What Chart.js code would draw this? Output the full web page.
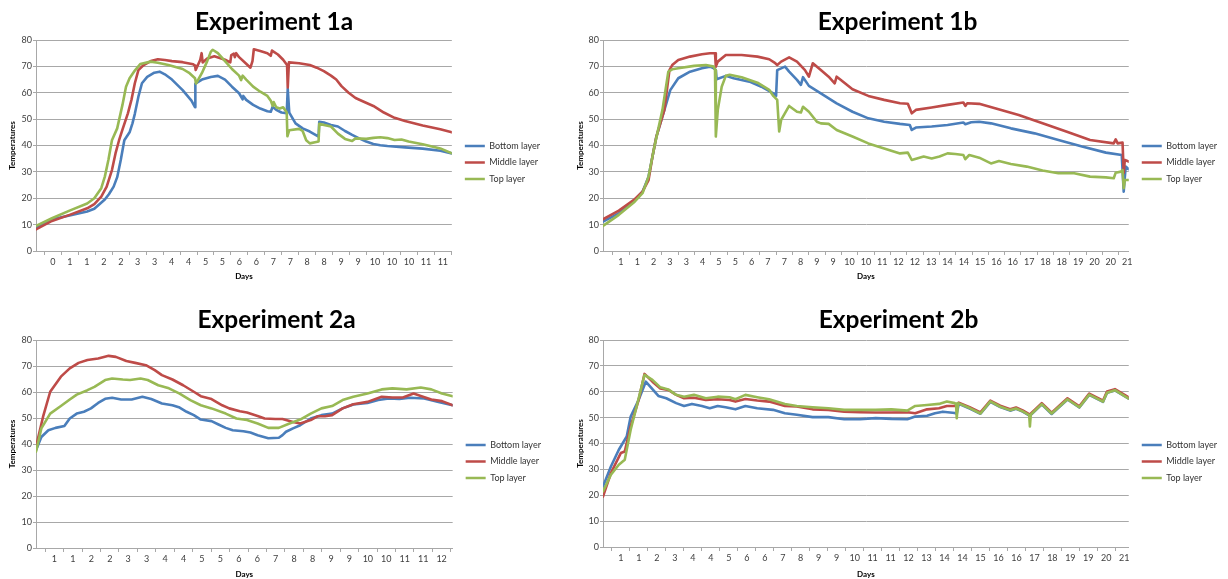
<!DOCTYPE html>
<html>
<head>
<meta charset="utf-8">
<script src="https://cdn.jsdelivr.net/npm/chart.js@4.4.0/dist/chart.umd.min.js"></script>
<style>
html, body { margin: 0; padding: 0; background: #fff; width: 1228px; height: 579px; overflow: hidden; position: relative; }
canvas { position: absolute; }
</style>
</head>
<body>
<canvas id="c1a"></canvas>
<canvas id="c1b"></canvas>
<canvas id="c2a"></canvas>
<canvas id="c2b"></canvas>
<script>
// ---------- data (x = position along the category axis, in tick-label steps; y = temperature) ----------
const seriesNames = ['Bottom layer', 'Middle layer', 'Top layer'];

const ticks1a = ['0','1','1','2','2','3','3','4','4','5','5','6','6','7','7','8','8','9','9','10','10','10','11','11'];
const ticks1b = ['1','1','2','3','3','4','5','5','6','7','7','8','9','9','10','10','11','12','12','13','14','14','15','16','16','17','18','18','19','20','20','21'];
const ticks2a = ['1','1','2','2','3','3','4','4','5','5','6','6','7','8','8','9','9','10','10','11','11','12'];
const ticks2b = ['1','1','2','3','4','4','5','6','6','7','8','9','9','10','11','11','12','13','14','14','15','16','16','17','18','19','19','20','21'];

const exp1aBottom = [[0,9.0],[0.94,12.0],[1.98,13.5],[3.02,15.0],[3.44,16.0],[4.06,19.5],[4.3,21.5],[4.58,24.4],[4.79,28],[5.0,34.5],[5.21,42],[5.52,45],[5.69,48.4],[5.83,52],[6.04,58.5],[6.25,63.6],[6.56,66],[6.98,67.6],[7.29,68],[7.6,67],[8.02,65],[8.65,61],[9.17,57],[9.38,54.5],[9.4,63.5],[9.79,65],[10.31,66],[10.73,66.4],[11.15,65],[11.56,62.3],[11.98,59.8],[12.19,57.5],[12.23,58.8],[12.4,57.3],[12.81,55.4],[13.23,54],[13.65,53],[13.85,52.8],[13.96,54.7],[14.17,53.5],[14.48,52.5],[14.79,52.2],[14.85,61.5],[14.94,52.5],[15.31,48.4],[15.73,46.5],[16.15,45.3],[16.67,43.4],[16.71,49],[16.98,48.7],[17.4,47.8],[17.81,47.2],[18.23,45.5],[18.65,44],[19.06,42.7],[19.48,41.5],[19.9,40.6],[20.31,40.1],[20.73,39.8],[21.77,39.3],[22.81,38.8],[23.85,38],[24.53,37]];
const exp1aMiddle = [[0,8.2],[0.94,11.4],[1.98,13.7],[3.02,16.2],[3.44,17.8],[3.85,20.6],[4.17,24.4],[4.48,30.7],[4.69,37],[4.9,42],[5.1,46],[5.42,52.2],[5.63,57.3],[5.83,63.6],[6.04,68.6],[6.35,70.5],[6.77,72],[7.19,72.7],[7.6,72.4],[8.02,72],[8.65,71.6],[9.27,70.8],[9.38,70.2],[9.42,68.6],[9.69,72.5],[9.77,75],[9.83,71.5],[10.1,73],[10.52,73.8],[11.15,72.5],[11.46,71.5],[11.52,74.3],[11.67,74.8],[11.73,73.5],[11.81,75],[11.98,73.5],[12.4,71],[12.65,69.5],[12.77,72],[12.85,76.5],[13.23,75.8],[13.65,75],[13.85,74],[13.92,76],[14.27,74.5],[14.58,72.5],[14.81,70.5],[14.85,62],[14.92,71.5],[15.52,71.2],[16.15,70.5],[16.56,69.5],[16.98,68.2],[17.4,66.5],[17.71,65],[18.02,62.5],[18.44,60],[18.85,58],[19.27,56.8],[19.9,55],[20.52,52.5],[21.15,50.5],[21.77,49.3],[22.81,47.6],[23.85,46.2],[24.53,45]];
const exp1aTop = [[0,9.5],[0.94,12.4],[1.98,15.3],[3.02,18],[3.44,20],[3.85,23.8],[4.06,28.2],[4.27,34.5],[4.48,42],[4.79,46.5],[5.1,55.4],[5.31,62.3],[5.52,65.5],[5.83,68.4],[6.15,70.9],[6.77,71.8],[7.19,71.4],[7.81,70.5],[8.65,69],[9.06,67.4],[9.38,65.5],[9.44,63.5],[9.79,67.5],[10.1,72],[10.31,75.5],[10.42,76.3],[10.73,75],[11.15,72],[11.56,69],[11.98,66.5],[12.1,64.8],[12.19,66.5],[12.4,65],[12.81,62.3],[13.23,60.4],[13.65,58.8],[13.85,57],[13.96,55],[14.02,56.5],[14.17,54.5],[14.38,54],[14.58,54.5],[14.79,52.5],[14.83,43.5],[14.94,45.8],[15.52,46.3],[15.73,45.5],[15.94,42],[16.15,40.8],[16.46,41.2],[16.67,41.5],[16.71,48.2],[17.4,47.2],[17.81,44.5],[18.23,42.5],[18.65,41.7],[18.85,42.7],[19.48,42.5],[19.9,42.9],[20.31,43.1],[20.73,42.8],[21.15,42.1],[21.56,42.3],[21.98,41.5],[22.81,40.5],[23.85,38.9],[24.53,37]];

const exp1bBottom = [[-0.1,11.1],[0.87,14.3],[1.84,19.3],[2.32,22.5],[2.69,28.2],[2.93,35.8],[3.17,43.4],[3.54,51],[3.78,56],[4.02,61],[4.51,65.5],[5.23,68],[5.96,69.3],[6.45,69.9],[6.69,69.3],[6.81,68.6],[6.86,65.1],[7.42,66.4],[7.9,65.5],[8.87,64.2],[9.6,62.3],[10.33,59.8],[10.5,58.8],[10.57,68.6],[11.05,69.9],[11.3,68],[11.78,64.9],[12.02,63],[12.15,65.9],[12.51,62.6],[13.24,59.8],[14.21,56],[15.18,52.8],[16.15,50.3],[17.12,49],[18.09,48.2],[18.69,47.8],[18.81,45.9],[19.06,46.8],[20.03,47.2],[21.0,47.8],[21.97,48.7],[22.09,48.1],[22.45,48.8],[22.94,49],[23.66,48.4],[24.88,46.5],[26.33,44.6],[27.79,42.1],[29.24,39.6],[30.7,37.3],[31.67,36.4],[31.79,22.5],[31.91,32],[32.1,31]];
const exp1bMiddle = [[-0.1,12],[0.87,15.3],[1.84,19.6],[2.32,22.5],[2.69,26.9],[2.93,35.8],[3.17,43.4],[3.66,53.5],[3.97,68.6],[4.14,70.5],[4.51,72.4],[5.23,73.7],[5.96,74.6],[6.45,75],[6.76,75],[6.81,69.9],[6.93,71.8],[7.42,74.3],[8.39,74.3],[9.36,73.7],[10.08,72.7],[10.45,71.2],[10.57,70.5],[10.81,71.8],[11.3,73.4],[11.78,71.8],[12.27,68.6],[12.51,66.1],[12.75,71.2],[13.24,68.6],[13.72,66.1],[14.09,63.6],[14.21,66.1],[14.45,64.9],[15.18,61.3],[16.15,58.8],[17.12,57.3],[18.09,56],[18.57,55.8],[18.81,52.2],[19.06,53.5],[20.03,54.4],[21.0,55.4],[21.97,56.3],[22.09,55],[22.21,56],[22.94,55.8],[23.91,54.1],[25.36,51.6],[26.82,48.4],[28.27,45.3],[29.73,42.1],[31.18,40.8],[31.3,42.3],[31.42,40.8],[31.72,41.1],[31.79,29.5],[31.86,34.5],[32.1,33.9]];
const exp1bTop = [[-0.1,9.5],[0.87,13.7],[1.84,18.7],[2.32,21.9],[2.69,28.2],[3.05,39.6],[3.54,53.5],[3.9,68],[4.14,68.9],[4.51,69.3],[5.48,70.2],[6.2,70.5],[6.69,69.9],[6.76,68.6],[6.81,43.4],[6.93,53.5],[7.17,62.3],[7.42,66.4],[7.66,66.8],[8.39,65.9],[9.36,63.8],[10.08,61.1],[10.33,58.8],[10.57,57.3],[10.69,45.3],[10.81,49.7],[11.3,55],[11.78,52.8],[12.02,52.5],[12.15,54.7],[12.51,52.8],[13.0,49],[13.24,48.4],[13.72,48.2],[14.21,45.9],[15.18,43.4],[16.15,40.8],[17.12,38.9],[18.09,37],[18.57,37.3],[18.81,34.5],[19.54,35.8],[20.03,35.1],[20.51,35.8],[21.0,37],[21.48,36.8],[21.97,36.4],[22.09,34.8],[22.33,36.4],[22.94,35.4],[23.66,33.2],[24.15,34.1],[24.88,33],[25.85,32],[26.82,30.5],[27.79,29.5],[28.76,29.5],[29.73,28.2],[30.7,27.9],[31.18,27.6],[31.3,29.7],[31.62,30.1],[31.72,30.7],[31.79,23.8],[31.86,26.9],[32.1,26.9]];

const exp2aBottom = [[0,37.6],[0.29,42.7],[0.67,45.3],[1.06,46.2],[1.54,46.9],[1.83,49.8],[2.21,51.7],[2.6,52.4],[2.98,53.7],[3.37,55.8],[3.75,57.4],[4.13,57.8],[4.62,57.1],[5.19,57.1],[5.77,58.2],[6.25,57.3],[6.83,55.6],[7.4,54.9],[7.79,54],[8.17,52.4],[8.56,51.1],[8.94,49.4],[9.52,48.8],[9.9,47.5],[10.29,46.2],[10.67,45.3],[11.25,44.9],[11.63,44.4],[12.02,43.4],[12.6,42.2],[13.17,42.4],[13.37,43.4],[13.56,44.7],[13.94,46],[14.33,47.2],[14.9,49.8],[15.48,51.1],[16.06,51.7],[16.63,53.7],[17.21,55.2],[17.98,55.8],[18.56,56.9],[19.13,57.5],[19.71,57.3],[20.29,57.8],[21.06,57.5],[21.83,56.2],[22.6,54.9]];
const exp2aMiddle = [[0,38.9],[0.38,50.4],[0.77,60.1],[1.35,65.9],[1.83,69.1],[2.31,71.2],[2.79,72.3],[3.37,72.9],[3.94,73.9],[4.33,73.5],[4.9,71.9],[5.38,71.2],[5.96,70.3],[6.44,68.4],[6.83,66.5],[7.4,64.8],[7.98,62.6],[8.56,60.1],[8.94,58.4],[9.52,57.3],[10.1,54.9],[10.48,53.7],[11.06,52.6],[11.44,52.1],[12.02,50.8],[12.4,49.8],[12.98,49.6],[13.37,49.6],[13.94,48.5],[14.33,47.9],[14.9,49.2],[15.29,50.7],[15.67,50.7],[16.06,51.1],[16.63,53.7],[17.21,55.3],[17.98,56.2],[18.75,58.2],[19.33,57.9],[19.9,57.9],[20.48,59.4],[20.87,58.5],[21.44,57.1],[22.02,56.5],[22.6,54.9]];
const exp2aTop = [[0,37],[0.29,46],[0.77,51.7],[1.35,54.6],[1.83,57.1],[2.21,59],[2.79,60.7],[3.17,62],[3.75,64.6],[4.13,65.2],[4.71,64.8],[5.1,64.6],[5.67,65.2],[6.06,64.6],[6.63,62.6],[7.21,61.4],[7.79,59.4],[8.37,56.9],[8.94,54.9],[9.52,53.7],[10.29,51.7],[10.87,49.8],[11.44,49.2],[12.02,47.9],[12.6,46.2],[13.17,46.2],[13.75,47.9],[14.33,49.4],[14.9,51.7],[15.48,53.7],[16.06,54.6],[16.63,56.9],[17.21,58.2],[17.98,59.4],[18.75,61],[19.33,61.4],[20.1,61],[20.87,61.7],[21.44,61],[22.02,59.4],[22.6,58.4]];

const exp2bBottom = [[0,23.4],[0.44,31.1],[0.88,37.6],[1.32,42.7],[1.54,50.4],[1.98,56.8],[2.38,63.9],[2.75,61],[3.08,58.4],[3.52,57.5],[4.07,55.6],[4.51,54.5],[4.95,55.3],[5.5,54.5],[5.94,53.6],[6.38,54.5],[6.82,54],[7.37,53.2],[7.92,54.5],[8.58,53.6],[9.46,53],[10.12,51.7],[10.78,51.1],[11.66,50.2],[12.54,50.2],[13.42,49.4],[14.3,49.4],[15.17,49.8],[16.05,49.5],[16.93,49.4],[17.37,50.4],[18.03,50.7],[18.47,51.7],[18.91,52.3],[19.57,51.8],[19.68,51.5],[19.79,55.3],[20.4,53.5],[21.0,51.5],[21.55,56.1],[22.1,54.1],[22.65,52.7],[22.98,53.4],[23.35,52.3],[23.75,50.7],[24.41,55.1],[24.96,51.4],[25.84,57],[26.5,53.9],[27.05,58.8],[27.82,56.1],[28.04,59.6],[28.48,60.5],[29.25,57.3]];
const exp2bMiddle = [[0,19.5],[0.44,28.6],[0.99,36.3],[1.21,36.9],[1.54,46.6],[1.98,56.8],[2.31,66.9],[2.75,63.9],[3.19,61.3],[3.63,60.7],[4.07,58.8],[4.51,57.5],[5.06,57.7],[5.72,56.8],[6.38,57.1],[7.04,56.8],[7.37,56.2],[7.92,57.2],[8.58,56.6],[9.24,56.2],[10.12,54.5],[10.78,54.3],[11.66,53.2],[12.54,53],[13.42,52.3],[14.3,52.1],[15.17,52],[16.05,52],[16.93,52.1],[17.37,51.7],[18.03,53.2],[18.69,53.6],[19.13,54.5],[19.57,54.5],[19.79,55.8],[20.4,54],[21.0,52],[21.55,56.6],[22.1,54.6],[22.65,53.2],[22.98,53.9],[23.35,52.8],[23.75,51.2],[24.41,55.6],[24.96,51.9],[25.84,57.5],[26.5,54.4],[27.05,59.3],[27.82,56.6],[28.04,60.1],[28.48,61],[29.25,57.8]];
const exp2bTop = [[0,21.5],[0.44,27.9],[0.88,31.8],[1.21,33.7],[1.54,45.3],[1.87,54.3],[2.31,66.5],[2.75,64.6],[3.19,61.7],[3.63,60.9],[4.07,58.8],[4.51,58.1],[5.06,58.8],[5.72,57.5],[6.38,58.1],[7.04,57.9],[7.37,57.1],[7.92,58.8],[8.58,57.9],[9.24,57.1],[10.12,55.3],[10.78,54.5],[11.66,54],[12.54,53.6],[13.42,53],[14.3,53],[15.17,53],[16.05,53.2],[16.93,52.7],[17.37,54.5],[18.03,54.9],[18.69,55.3],[19.13,56.2],[19.57,55.6],[19.64,55.4],[19.68,49.8],[19.75,55.6],[20.4,53.7],[21.0,51.6],[21.55,56.3],[22.1,54.2],[22.65,52.9],[22.98,53.5],[23.35,52.4],[23.71,51],[23.75,46.6],[23.8,51.2],[24.41,55.2],[24.96,51.6],[25.84,57.1],[26.5,54],[27.05,58.9],[27.82,56.2],[28.04,59.6],[28.48,60.6],[29.25,57.3]];

// ---------- styling / layout ----------
const FONT = 'Lato';
const COLORS = ['#4A7EBB', '#BE4B48', '#98B954'];
const GRID = '#a8a8a8';
const TICK_TXT = '#404040';
const LEG = { font: 9, box: 20, pad: 7.5, gap: 5.5 };
const TITLE_SIZE = 24.5;

function legendWidth() {
  const ctx = document.createElement('canvas').getContext('2d');
  ctx.font = LEG.font + 'px ' + FONT;
  let m = 0;
  seriesNames.forEach(n => { m = Math.max(m, ctx.measureText(n).width); });
  return LEG.box + LEG.font / 2 + m + 10;
}

function build(id, spec) {
  const lw = legendWidth();
  const W = Math.round(2 * (spec.area.r + LEG.gap + lw - spec.titleCx));
  const left = Math.round(spec.titleCx - W / 2);
  const H = Math.round(2 * (spec.legendMidY - spec.top));
  const canvas = document.getElementById(id);
  canvas.width = W; canvas.height = H;
  canvas.style.left = left + 'px'; canvas.style.top = spec.top + 'px';
  canvas.style.width = W + 'px'; canvas.style.height = H + 'px';

  const tLH = TITLE_SIZE * 1.2;
  const titlePadTop = spec.titleCy - spec.top - tLH / 2;
  const titlePadBottom = (spec.area.t - spec.top) - titlePadTop - tLH;
  const yW = spec.area.l - left;
  const xH = H - (spec.area.b - spec.top);
  const daysPad = H - 4.8 - (spec.daysCy - spec.top);
  const yTitlePad = spec.yTitleCx - left - 4.8;
  const labels = spec.ticks;

  const datasets = spec.series.map((d, i) => ({
    label: seriesNames[i],
    data: d,
    borderColor: COLORS[i],
    backgroundColor: COLORS[i],
    borderWidth: 2.6,
    pointRadius: 0,
    pointHoverRadius: 0,
    tension: 0,
    borderJoinStyle: 'round',
    borderCapStyle: 'round',
    order: 3 - i,
    xAxisID: 'x',
    yAxisID: 'y'
  }));

  return new Chart(canvas, {
    type: 'line',
    data: { datasets },
    options: {
      responsive: false,
      animation: false,
      devicePixelRatio: 1,
      layout: { padding: 0 },
      plugins: {
        title: {
          display: true, text: spec.title, color: '#000',
          font: { family: FONT, size: TITLE_SIZE, weight: 'bold' },
          padding: { top: titlePadTop, bottom: titlePadBottom }
        },
        legend: {
          position: 'right', reverse: true,
          labels: {
            usePointStyle: true, pointStyle: 'line', pointStyleWidth: LEG.box,
            padding: LEG.pad, color: '#333',
            font: { family: FONT, size: LEG.font }
          }
        },
        tooltip: { enabled: false }
      },
      scales: {
        x: {
          type: 'linear', min: spec.xMin, max: spec.xMax,
          grid: {
            display: true, drawOnChartArea: false, drawTicks: true, tickLength: 4,
            color: ctx => (ctx.tick && Number.isInteger(ctx.tick.value)) ? 'rgba(0,0,0,0)' : GRID
          },
          border: { display: true, color: GRID },
          ticks: {
            stepSize: 0.5, autoSkip: false, maxRotation: 0, minRotation: 0, includeBounds: false,
            padding: 2, color: TICK_TXT, font: { family: FONT, size: 9 },
            callback: v => (Number.isInteger(v) && v >= 1 && v <= labels.length) ? labels[v - 1] : ''
          },
          title: {
            display: true, text: 'Days', color: '#000',
            font: { family: FONT, size: 8, weight: 'bold' },
            padding: { top: 0, bottom: daysPad }
          },
          afterFit: s => { s.height = xH; }
        },
        y: {
          position: 'left', min: 0, max: 80,
          grid: { color: GRID, tickLength: 3 },
          border: { display: true, color: GRID },
          ticks: { stepSize: 10, padding: 1, color: TICK_TXT, font: { family: FONT, size: 9 } },
          title: {
            display: true, text: 'Temperatures', color: '#000',
            font: { family: FONT, size: 8, weight: 'bold' },
            padding: { top: yTitlePad, bottom: 0 }
          },
          afterFit: s => { s.width = yW; }
        },
        gap: {
          axis: 'y', type: 'linear', position: 'right', display: true,
          grid: { display: false }, border: { display: false }, ticks: { display: false },
          afterFit: s => { s.width = LEG.gap; }
        }
      }
    }
  });
}

build('c1a', {
  title: 'Experiment 1a', ticks: ticks1a, xMin: 0, xMax: 24.53,
  series: [exp1aBottom, exp1aMiddle, exp1aTop],
  top: 0, titleCx: 273.5, titleCy: 22, legendMidY: 162.5,
  area: { l: 36, t: 40, r: 458, b: 251 }, yTitleCx: 12, daysCy: 276
});
build('c1b', {
  title: 'Experiment 1b', ticks: ticks1b, xMin: -0.1, xMax: 32.1,
  series: [exp1bBottom, exp1bMiddle, exp1bTop],
  top: 0, titleCx: 897, titleCy: 22, legendMidY: 162.5,
  area: { l: 603, t: 40, r: 1136, b: 251 }, yTitleCx: 580, daysCy: 276
});
build('c2a', {
  title: 'Experiment 2a', ticks: ticks2a, xMin: 0, xMax: 22.6,
  series: [exp2aBottom, exp2aMiddle, exp2aTop],
  top: 298, titleCx: 276, titleCy: 320, legendMidY: 461.5,
  area: { l: 36, t: 340, r: 458, b: 548 }, yTitleCx: 12, daysCy: 574
});
build('c2b', {
  title: 'Experiment 2b', ticks: ticks2b, xMin: 0, xMax: 29.25,
  series: [exp2bBottom, exp2bMiddle, exp2bTop],
  top: 298, titleCx: 898, titleCy: 320, legendMidY: 461.5,
  area: { l: 603, t: 340, r: 1136, b: 547 }, yTitleCx: 580, daysCy: 574
});
</script>
</body>
</html>
